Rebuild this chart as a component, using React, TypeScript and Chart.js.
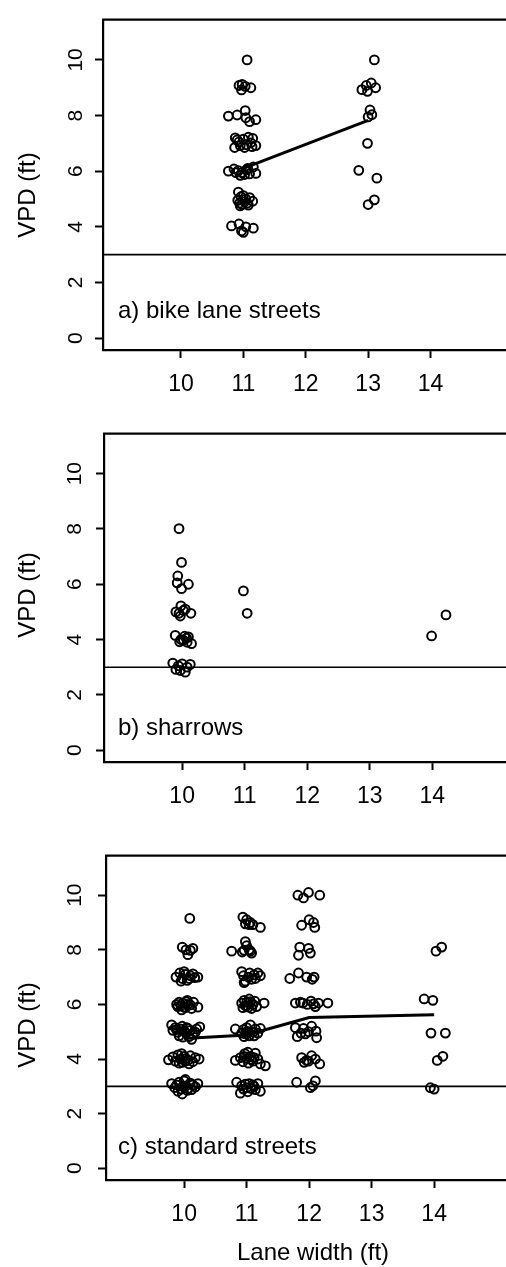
import React, { useEffect, useRef } from "react";
import { Chart, registerables } from "chart.js";

Chart.register(...registerables);

// ---------- data ----------
const xTicks = [10, 11, 12, 13, 14];
const yTicks = [0, 2, 4, 6, 8, 10];
const refLineY = 3;

// a) bike lane streets
const bikeX = [
  11.06,
  10.93, 10.98, 11.03, 11.12, 10.97,
  10.76, 10.9, 11.03, 11.04, 11.1, 11.2,
  10.87, 10.93, 11.0, 11.08, 11.15, 10.86, 10.95, 11.05, 11.12, 11.2, 11.02, 11.14, 10.9,
  10.76, 10.85, 10.92, 10.98, 11.05, 11.1, 11.16, 11.2, 10.95, 11.02, 11.07, 10.88,
  10.92, 10.96, 11.04, 11.1, 10.94, 10.98, 11.02, 11.08, 11.15, 10.91, 11.0, 11.06, 10.95,
  10.81, 10.93, 10.97, 11.04, 11.16, 11.0,
  13.1, 12.9, 12.97, 13.05, 12.99, 13.12, 13.03, 13.0, 13.06, 12.99, 12.85, 13.14, 13.0, 13.1,
];
const bikeY = [
  10.0,
  9.08, 9.12, 9.05, 9.0, 8.92,
  7.98, 8.02, 8.18, 7.92, 7.78, 7.85,
  7.2, 7.05, 7.15, 7.22, 7.18, 6.85, 6.92, 6.95, 7.02, 6.92, 6.85, 6.88, 7.12,
  6.0, 6.08, 6.02, 5.95, 6.05, 5.9, 6.15, 5.92, 5.85, 5.88, 6.1, 5.95,
  5.25, 5.08, 5.0, 5.05, 4.85, 4.8, 4.9, 4.78, 4.92, 4.95, 5.12, 4.85, 4.75,
  4.03, 4.1, 3.85, 4.0, 3.95, 3.8,
  10.0, 8.93, 9.08, 9.17, 8.87, 9.0, 8.2, 7.95, 8.03, 7.0, 6.03, 5.75, 4.8, 4.97,
];
const bikeTrendX = [11, 13];
const bikeTrendY = [6.1, 7.83];

// b) sharrows
const sharrowX = [
  9.95, 9.99, 9.93, 9.92, 10.1, 9.99,
  9.98, 9.9, 10.02, 10.14, 9.97, 10.05, 9.95,
  9.89, 10.04, 10.1, 9.96, 10.15, 10.02, 10.07, 9.98, 10.08,
  9.85, 10.0, 10.13, 9.9, 10.05, 9.97, 10.08, 9.94,
  10.98, 11.04, 13.99, 14.22,
];
const sharrowY = [
  8.01, 6.79, 6.3, 6.05, 6.0, 5.84,
  5.22, 5.0, 5.05, 4.95, 4.85, 5.1, 4.95,
  4.15, 4.12, 4.1, 3.92, 3.85, 3.98, 4.05, 4.0, 3.9,
  3.15, 3.12, 3.1, 2.92, 2.82, 2.88, 3.0, 3.05,
  5.76, 4.95, 4.13, 4.89,
];

// c) standard streets
const standardX = [
  // 10 ft
  10.09,
  9.97, 10.03, 10.06, 10.14, 10.1,
  9.87, 9.93, 9.97, 10.02, 10.05, 10.1, 10.14, 10.22, 9.95, 10.08, 10.0, 10.17,
  9.88, 9.92, 9.95, 9.98, 10.0, 10.03, 10.06, 10.1, 10.15, 10.22, 9.96, 10.02, 9.9, 10.05, 10.12,
  9.8, 9.82, 9.86, 9.9, 9.94, 9.97, 10.0, 10.03, 10.06, 10.1, 10.14, 10.2, 10.25, 9.92, 9.98, 10.08, 10.12, 10.04, 9.88, 10.18,
  9.75, 9.82, 9.86, 9.9, 9.94, 9.97, 10.0, 10.03, 10.06, 10.1, 10.14, 10.18, 10.24, 9.96, 10.08, 9.92, 10.02,
  9.8, 9.85, 9.88, 9.92, 9.95, 9.98, 10.0, 10.03, 10.06, 10.1, 10.14, 10.18, 10.22, 9.9, 9.97, 10.05, 10.12, 10.02,
  // 11 ft
  10.94, 11.0, 10.98, 11.06, 11.1, 11.22, 11.04,
  10.76, 10.93, 10.98, 11.0, 11.04, 11.06, 11.08, 10.96,
  10.92, 10.95, 10.98, 11.03, 11.08, 11.12, 11.18, 11.22, 10.96, 11.05, 11.14,
  10.92, 10.96, 10.98, 11.0, 11.03, 11.06, 11.1, 11.13, 11.16, 11.28, 10.94, 11.04, 11.08, 11.0,
  10.82, 10.92, 10.95, 10.98, 11.0, 11.03, 11.06, 11.1, 11.14, 11.18, 11.22, 10.96, 11.04, 11.12, 11.0,
  10.82, 10.9, 10.94, 10.97, 11.0, 11.03, 11.06, 11.1, 11.14, 11.18, 11.22, 11.3, 10.96, 11.08, 11.02, 11.12,
  10.84, 10.92, 10.95, 10.98, 11.0, 10.9, 11.04, 11.07, 11.1, 11.14, 11.18, 11.22, 11.02, 11.12,
  // 12 ft
  11.82, 11.91, 11.99, 12.17,
  11.88, 12.0, 12.07, 12.09,
  11.85, 11.99, 11.83, 12.02,
  11.69, 11.83, 11.96, 12.08, 12.05,
  11.78, 11.9, 12.03, 12.15, 12.1, 12.3, 11.97, 11.86, 12.07,
  11.78, 11.91, 12.04, 12.11, 11.81, 11.94, 12.12, 11.99, 11.87,
  11.88, 11.96, 12.04, 12.17, 11.99, 12.1, 11.92,
  11.8, 12.1, 12.02, 12.06,
  // 14 ft
  14.03, 14.12, 13.84, 13.98, 13.95, 14.18, 14.05, 14.14, 13.94, 14.0,
];
const standardY = [
  // 10 ft
  9.15,
  8.1, 8.0, 7.82, 8.05, 7.98,
  7.0, 7.15, 6.95, 7.1, 6.88, 7.05, 7.12, 7.0, 6.85, 6.95, 7.2, 6.98,
  6.0, 6.08, 5.95, 6.05, 5.9, 6.1, 6.0, 5.98, 6.08, 5.9, 5.8, 5.88, 5.92, 6.15, 5.85,
  5.25, 5.05, 5.15, 4.98, 5.1, 5.2, 5.02, 4.95, 5.12, 5.05, 4.9, 5.1, 5.18, 4.85, 4.8, 4.82, 4.72, 5.15, 5.08, 4.98,
  3.97, 4.08, 3.92, 4.15, 4.0, 3.88, 4.1, 4.02, 3.95, 4.12, 3.9, 4.05, 4.0, 4.2, 3.82, 3.85, 3.92,
  3.1, 2.95, 3.05, 3.15, 2.9, 3.0, 3.2, 3.02, 2.92, 3.12, 3.05, 2.98, 3.1, 2.82, 2.72, 2.85, 2.88, 3.25,
  // 11 ft
  9.2, 9.1, 8.95, 9.0, 8.92, 8.82, 8.92,
  7.95, 7.92, 8.3, 8.15, 8.0, 7.95, 7.88, 7.98,
  7.2, 7.05, 6.85, 7.0, 6.92, 7.08, 7.15, 7.05, 6.8, 7.15, 6.95,
  6.05, 6.15, 5.95, 6.08, 5.9, 6.1, 6.0, 6.12, 5.92, 6.05, 5.88, 6.2, 5.85, 5.95,
  5.1, 4.95, 5.08, 4.92, 5.15, 5.0, 5.25, 4.98, 5.1, 4.95, 5.12, 4.82, 4.85, 4.85, 5.0,
  3.95, 4.05, 3.9, 4.2, 4.02, 3.85, 4.1, 3.92, 4.22, 4.0, 3.82, 3.75, 4.1, 3.98, 4.25, 4.05,
  3.15, 3.02, 2.9, 3.08, 2.95, 2.75, 3.1, 2.92, 3.05, 2.88, 3.1, 2.82, 2.8, 3.0,
  // 12 ft
  10.0, 9.9, 10.1, 10.0,
  8.9, 9.1, 9.0, 8.82,
  8.1, 8.05, 7.8, 7.88,
  6.95, 7.15, 7.0, 7.0, 6.92,
  6.05, 6.05, 6.12, 6.05, 5.92, 6.05, 6.0, 6.08, 6.02,
  5.15, 5.12, 5.2, 5.02, 4.82, 4.92, 4.78, 5.0, 4.95,
  4.05, 3.95, 4.12, 3.82, 3.92, 4.0, 3.88,
  3.15, 3.2, 2.95, 3.02,
  // 14 ft
  7.95, 8.1, 6.2, 6.15, 4.95, 4.95, 3.95, 4.1, 2.95, 2.9,
];
const standardTrendX = [10, 11, 12, 14];
const standardTrendY = [4.75, 4.88, 5.52, 5.62];

const panelLabels = ["a) bike lane streets", "b) sharrows", "c) standard streets"];
const yTitle = "VPD (ft)";
const xTitle = "Lane width (ft)";

// ---------- layout / style ----------
const FONT = '"Liberation Sans", Arial, Helvetica, sans-serif';
const X_MIN = 8.75;
const Y_MIN = -0.43;
const Y_MAX = 11.45;

type Spec = {
  top: number;
  height: number;
  areaLeft: number;
  padTop: number;
  xAxisHeight: number;
  xMax: number;
  yTickPad: number;
  label: string;
  labelY: number;
  yTitleY: number;
  xTitleY?: number;
  px: number[];
  py: number[];
  tx?: number[];
  ty?: number[];
};

const specs: Spec[] = [
  {
    top: 0, height: 412, areaLeft: 103, padTop: 9, xAxisHeight: 62, xMax: 15.21, yTickPad: 7,
    label: panelLabels[0], labelY: 311, yTitleY: 195,
    px: bikeX, py: bikeY, tx: bikeTrendX, ty: bikeTrendY,
  },
  {
    top: 412, height: 420, areaLeft: 104, padTop: 9, xAxisHeight: 70, xMax: 15.18, yTickPad: 9,
    label: panelLabels[1], labelY: 316, yTitleY: 183,
    px: sharrowX, py: sharrowY,
  },
  {
    top: 832, height: 435, areaLeft: 106, padTop: 7, xAxisHeight: 87, xMax: 15.15, yTickPad: 11,
    label: panelLabels[2], labelY: 315, yTitleY: 193, xTitleY: 421,
    px: standardX, py: standardY, tx: standardTrendX, ty: standardTrendY,
  },
];

function Panel({ spec }: { spec: Spec }) {
  const ref = useRef<HTMLCanvasElement>(null);

  useEffect(() => {
    const canvas = ref.current;
    if (!canvas) return;
    const datasets: any[] = [
      {
        data: spec.px.map((x, i) => ({ x, y: spec.py[i] })),
        pointRadius: 4.4,
        pointBorderWidth: 2,
        pointBorderColor: "#000",
        pointBackgroundColor: "rgba(0,0,0,0)",
        showLine: false,
        order: 2,
      },
    ];
    if (spec.tx && spec.ty) {
      const ty = spec.ty;
      datasets.push({
        data: spec.tx.map((x, i) => ({ x, y: ty[i] })),
        showLine: true,
        borderColor: "#000",
        borderWidth: 3,
        pointRadius: 0,
        fill: false,
        tension: 0,
        order: 1,
      });
    }

    const annot = {
      id: "annot",
      beforeDatasetsDraw(chart: any) {
        const { ctx, chartArea, scales } = chart;
        const y = scales.y.getPixelForValue(refLineY);
        ctx.save();
        ctx.strokeStyle = "#000";
        ctx.lineWidth = 1.6;
        ctx.beginPath();
        ctx.moveTo(chartArea.left, y);
        ctx.lineTo(chartArea.right, y);
        ctx.stroke();
        ctx.restore();
      },
      afterDraw(chart: any) {
        const { ctx, chartArea } = chart;
        ctx.save();
        // top border of the plot box
        ctx.strokeStyle = "#000";
        ctx.lineWidth = 2.2;
        ctx.beginPath();
        ctx.moveTo(chartArea.left - 1, chartArea.top);
        ctx.lineTo(chartArea.right, chartArea.top);
        ctx.stroke();
        // panel label
        ctx.fillStyle = "#000";
        ctx.font = `24px ${FONT}`;
        ctx.textAlign = "left";
        ctx.textBaseline = "middle";
        ctx.fillText(spec.label, 118, spec.labelY);
        // y title
        ctx.save();
        ctx.translate(28, spec.yTitleY);
        ctx.rotate(-Math.PI / 2);
        ctx.textAlign = "center";
        ctx.textBaseline = "middle";
        ctx.font = `24px ${FONT}`;
        ctx.fillText(yTitle, 0, 0);
        ctx.restore();
        // x title
        if (spec.xTitleY !== undefined) {
          ctx.textAlign = "center";
          ctx.textBaseline = "middle";
          ctx.font = `24px ${FONT}`;
          ctx.fillText(xTitle, 313, spec.xTitleY);
        }
        ctx.restore();
      },
    };

    const chart = new Chart(canvas, {
      type: "scatter",
      data: { datasets },
      options: {
        responsive: false,
        animation: false,
        layout: { padding: { top: spec.padTop, left: 0, right: 0, bottom: 0 }, autoPadding: false },
        plugins: { legend: { display: false }, tooltip: { enabled: false }, title: { display: false } },
        scales: {
          x: {
            type: "linear",
            min: X_MIN,
            max: spec.xMax,
            afterBuildTicks: (s: any) => {
              s.ticks = xTicks.map((v) => ({ value: v }));
            },
            afterFit: (s: any) => {
              s.height = spec.xAxisHeight;
            },
            grid: {
              display: true,
              drawOnChartArea: false,
              drawTicks: true,
              tickLength: 8,
              tickWidth: 2,
              tickColor: "#000",
            },
            border: { display: true, color: "#000", width: 2.2 },
            ticks: {
              color: "#000",
              font: { family: FONT, size: 23 },
              padding: 13,
              minRotation: 0,
              maxRotation: 0,
              autoSkip: false,
            },
          },
          y: {
            type: "linear",
            min: Y_MIN,
            max: Y_MAX,
            afterBuildTicks: (s: any) => {
              s.ticks = yTicks.map((v) => ({ value: v }));
            },
            afterFit: (s: any) => {
              s.width = spec.areaLeft;
            },
            grid: {
              display: true,
              drawOnChartArea: false,
              drawTicks: true,
              tickLength: 8,
              tickWidth: 2,
              tickColor: "#000",
            },
            border: { display: true, color: "#000", width: 2.2 },
            ticks: {
              color: "#000",
              font: { family: FONT, size: 21 },
              padding: spec.yTickPad,
              minRotation: 90,
              maxRotation: 90,
              crossAlign: "center",
              autoSkip: false,
            },
          },
        },
      } as any,
      plugins: [annot],
    });
    return () => chart.destroy();
  }, [spec]);

  return (
    <canvas
      ref={ref}
      width={506}
      height={spec.height}
      style={{ position: "absolute", left: 0, top: spec.top, width: 506, height: spec.height }}
    />
  );
}

export default function App() {
  return (
    <div style={{ position: "absolute", left: 0, top: 0, width: 506, height: 1267, background: "#fff", overflow: "hidden" }}>
      {specs.map((s, i) => (
        <Panel key={i} spec={s} />
      ))}
    </div>
  );
}
